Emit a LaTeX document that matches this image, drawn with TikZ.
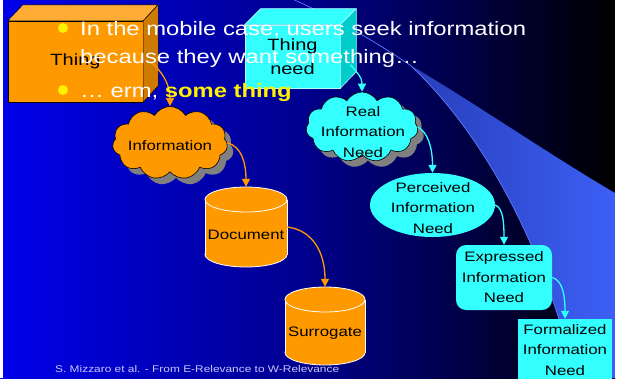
\documentclass[tikz,border=0pt]{standalone}
\usepackage{fontspec}
\setmainfont{Liberation Sans}[FakeStretch=1.227]
\usetikzlibrary{shapes.symbols,shapes.geometric,arrows.meta}
\definecolor{org}{RGB}{255,153,0}
\definecolor{orgdark}{RGB}{204,122,0}
\definecolor{orglight}{RGB}{255,172,55}
\definecolor{cyn}{RGB}{51,255,255}
\definecolor{cyndark}{RGB}{0,204,204}
\definecolor{cynedge}{RGB}{170,255,255}
\definecolor{bgblue}{RGB}{0,0,235}
\definecolor{bgmid}{RGB}{0,0,140}
\definecolor{swA}{RGB}{40,62,185}
\definecolor{swB}{RGB}{60,95,245}
\definecolor{swline}{RGB}{90,125,255}
\definecolor{footc}{RGB}{200,200,255}
\definecolor{shadowg}{RGB}{128,128,128}
\newcommand\mycyl[7]{%
 \filldraw[cylf] (#1,#3-12.5) ellipse[x radius=#4, y radius=12.5];
 \fill[org] (#1-#4,#2+12.5) rectangle (#1+#4,#3-12.5);
 \draw[cyledge] (#1-#4,#2+12.5) -- (#1-#4,#3-12.5) (#1+#4,#2+12.5) -- (#1+#4,#3-12.5);
 \filldraw[cylf] (#1,#2+12.5) ellipse[x radius=#4, y radius=12.5];
 \node[inner sep=0pt, minimum width=2*#4, minimum height=#3-#2] (#5) at (#1,{(#2+#3)/2}) {};
 \node[lbl] (#5t) at (#1,#7) {#6};
}
\begin{document}
\begin{tikzpicture}[x=1pt,y=-1pt,
  lbl/.style={font=\fontsize{13.7}{20.5}\selectfont, align=center, text=black, inner sep=0pt},
  boxlbl/.style={font=\fontsize{16.3}{24}\selectfont, align=center, text=black, inner sep=0pt},
  bul/.style={font=\fontsize{19.4}{23}\selectfont, text=white, inner sep=0pt},
  foot/.style={font=\fontsize{9.7}{11}\selectfont, text=footc, inner sep=0pt},
  dot/.style={circle, fill=yellow, minimum size=10pt, inner sep=0pt},
  cylf/.style={fill=org, draw=white, line width=0.8pt},
  cyledge/.style={draw=white, line width=0.8pt},
  ocloud/.style={cloud, cloud puffs=11, cloud puff arc=120, aspect=1.6, draw=black, line width=0.6pt, fill=org, minimum width=115pt, minimum height=73pt, inner sep=0pt},
  ccloud/.style={cloud, cloud puffs=11, cloud puff arc=120, aspect=1.6, draw=black, line width=0.6pt, fill=cyn, minimum width=112pt, minimum height=70pt, inner sep=0pt},
  scloud/.style={cloud, cloud puffs=11, cloud puff arc=120, aspect=1.6, draw=none, fill=shadowg, inner sep=0pt},
  oarr/.style={draw=org, line width=1.3pt, -{Triangle[length=8pt,width=8pt]}},
  carr/.style={draw=cyn, line width=1.3pt, -{Triangle[length=8pt,width=8pt]}}
]
\useasboundingbox (0,0) rectangle (619,378);
% background
\shade[left color=bgblue, right color=black, middle color=bgmid] (0,0) rectangle (615,378);
% swoosh
\shade[left color=swA, right color=swB] (410,65) .. controls (470,100) and (550,155) .. (615,193) -- (615,378) -- (575,378) .. controls (548,260) and (490,140) .. (410,65) -- cycle;
\draw[swline, line width=0.7pt] (290,-2) .. controls (340,20) and (380,45) .. (410,65) .. controls (490,140) and (548,260) .. (575,378);
\fill[white] (0,0) rectangle (3,378);
\fill[white] (615,0) rectangle (619,378);

% Thing box
\node[draw=black, fill=org, minimum width=135pt, minimum height=81pt, boxlbl] (thing) at (75.5,61.5) {Thing};
\filldraw[fill=orglight, draw=black] (thing.north west) -- ++(15,-16) -- ++(135,0) -- (thing.north east) -- cycle;
\filldraw[fill=orgdark, draw=black] (thing.north east) -- ++(15,-16) -- ++(0,81) -- (thing.south east) -- cycle;

% Thing need box
\node[draw=cynedge, line width=0.6pt, fill=cyn, minimum width=95pt, minimum height=63pt, boxlbl] (tn) at (292.5,56.5) {Thing\\need};
\filldraw[fill=cyn, draw=cynedge, line width=0.6pt] (tn.north west) -- ++(16,-16) -- ++(95,0) -- (tn.north east) -- cycle;
\filldraw[fill=cyndark, draw=cynedge, line width=0.6pt] (tn.north east) -- ++(16,-16) -- ++(0,63) -- (tn.south east) -- cycle;

% Information cloud
\node[scloud, minimum width=115pt, minimum height=73pt] (infos) at (176,149) {};
\node[ocloud] (info) at (170,143) {};
\node[lbl] (infot) at (170,146) {Information};

% cylinders
\mycyl{246}{187}{267}{41}{doc}{Document}{235}
\mycyl{325}{287}{365}{40}{sur}{Surrogate}{333}

% Real information need cloud
\node[scloud, minimum width=112pt, minimum height=70pt] (rins) at (368,133) {};
\node[ccloud] (rin) at (362,127) {};
\node[lbl] (rint) at (363,132) {Real\\Information\\Need};

% Perceived
\node[ellipse, fill=cyn, minimum width=125pt, minimum height=64pt, inner sep=0pt] (pin) at (432.5,205) {};
\node[lbl] (pint) at (433,208) {Perceived\\Information\\Need};

% Expressed
\node[rectangle, rounded corners=10pt, fill=cyn, minimum width=96pt, minimum height=65pt, lbl] (exn) at (504,277.5) {Expressed\\Information\\Need};

% Formalized
\node[rectangle, fill=cyn, minimum width=94pt, minimum height=62pt, lbl] (fin) at (565,350) {Formalized\\Information\\Need};

% connectors
\coordinate (thingR) at ([xshift=7pt]thing.east);
\coordinate (tnR) at ([xshift=10pt,yshift=-8pt]tn.east);
\draw[oarr] (thingR) .. controls +(12,10) and +(0,-22) .. (info.north);
\draw[oarr] (info.east) .. controls +(15,3) and +(0,-22) .. (doc.north);
\draw[oarr] (doc.east) .. controls +(25,3) and +(0,-35) .. (sur.north);
\draw[carr] (tnR) .. controls +(8,10) and +(0,-15) .. (rin.north);
\draw[carr] (rin.east) .. controls +(10,5) and +(0,-25) .. (pin.north);
\draw[carr] (pin.east) .. controls +(8,3) and +(0,-22) .. (exn.north);
\draw[carr] (exn.east) .. controls +(10,3) and +(0,-25) .. (fin.north);

% bullet text
\node[dot] (b1) at (63,28) {};
\node[dot] (b2) at (63,90) {};
\node[bul, anchor=base west] (l1) at (80,35) {In the mobile case, users seek information};
\node[bul, anchor=base west] (l2) at (80,63) {because they want something…};
\node[bul, anchor=base west] (l3) at (80,97) {… erm, \textbf{\color{yellow}some thing}};

% footer
\node[foot, anchor=base west] (ft) at (55,372) {S. Mizzaro et al. - From E-Relevance to W-Relevance};
\end{tikzpicture}
\end{document}
